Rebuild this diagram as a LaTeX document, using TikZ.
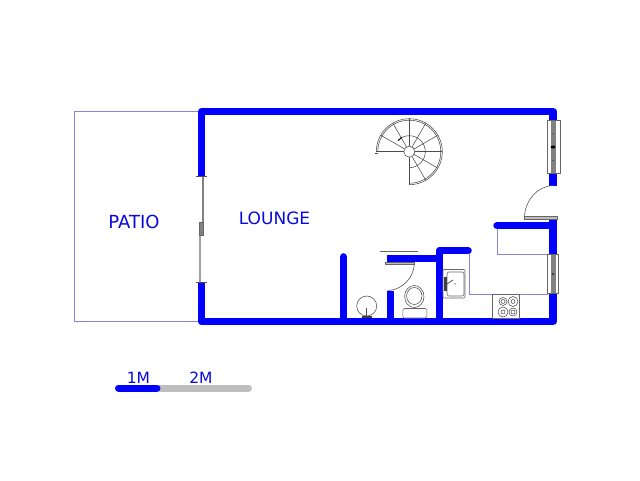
\documentclass[tikz,border=0pt]{standalone}
\usepackage{fontspec}
\setmainfont{DejaVu Sans}
\definecolor{wallblue}{RGB}{0,0,252}
\definecolor{lab}{RGB}{10,10,220}
\definecolor{pat}{RGB}{140,130,215}
\definecolor{gr}{RGB}{130,130,130}
\definecolor{lg}{RGB}{190,190,190}
\tikzset{
 wall/.style={draw=wallblue,line width=7.4pt,line join=round,line cap=butt},
 wallr/.style={wall,line cap=round},
 thin/.style={draw=pat,line width=.9pt},
 fix/.style={draw=black!70,line width=.55pt},
 frame/.style={draw=black!60,fill=white,line width=.6pt},
 roomlabel/.style={text=lab,font=\fontsize{17}{18}\selectfont,inner sep=0pt},
 scalelabel/.style={text=lab,font=\fontsize{15.5}{16}\selectfont,inner sep=0pt}
}
\begin{document}
\begin{tikzpicture}[x=1pt,y=-1pt]
\useasboundingbox (0,0) rectangle (640,480);
\fill[white] (0,0) rectangle (640,480);
% patio
\draw[thin] (201,111) -- (74.5,111) -- (74.5,321.7) -- (201,321.7);
% counters
\draw[thin] (497,226) -- (497,254) -- (548,254);
\draw[thin] (469.5,252) -- (469.5,294) -- (548,294);
% walls
\draw[wall] (201.7,176) -- (201.7,111.5) -- (553,111.5) -- (553,120);
\draw[wall] (553,173) -- (553,185.5);
\draw[wall] (201.7,283) -- (201.7,321.7) -- (553,321.7) -- (553,293);
\draw[wall] (553,254) -- (553,218);
\draw[wallr] (553,225.7) -- (497,225.7);
\draw[wall] (343.5,321.7) -- (343.5,257);
\draw[wallr] (343.5,257) -- (343.5,256.9);
\draw[wall] (390.7,321.7) -- (390.7,291);
\draw[wall] (386.5,258.5) -- (440,258.5);
\draw[wall] (439.5,321.7) -- (439.5,250.5) -- (468,250.5);
\draw[wallr] (468,250.5) -- (468.1,250.5);
% sliding door
\draw[gr,line width=2pt] (202.7,176) -- (202.7,228);
\draw[lg!85!black,line width=2pt] (200,228) -- (200,283);
\draw[frame,fill=gr] (199,222.5) rectangle (203.5,235.5);
\draw[black!70,line width=.6pt] (195.5,176) -- (206.5,176) (195.5,282.7) -- (206.5,282.7);
% upper right window
\draw[frame] (547.7,120.7) rectangle (559.8,173.3);
\fill[gr] (551,121) rectangle (556,173);
\fill[black] (553,147) ellipse (2.5 and 1.5);
\fill[black!80] (553,134) circle (.7) (553,160.5) circle (.7);
% lower right window
\draw[frame] (547.5,254) rectangle (558.7,293.3);
\fill[gr] (551,254.5) rectangle (556,293);
\fill[black] (553,274) circle (.8);
% entrance door
\draw[frame,fill=lg] (524.5,216.2) rectangle (557.5,218.8);
\draw[fix] (524.5,216.2) .. controls (525.5,200) and (537,186.5) .. (553,185.5);
% bathroom door
\draw[frame,fill=lg] (385.5,261.8) rectangle (414.3,264.6);
\draw[fix] (414.3,264.6) .. controls (413.5,278) and (402,290) .. (388,290.5);
\draw[black!60,line width=.6pt] (379.5,251.3) -- (417.5,251.3);
% spiral stair (y axis points down, so angles run clockwise on the page)
\begin{scope}[shift={(409.3,151.7)},fix]
 \draw (180:33) arc[start angle=180,end angle=450,radius=33];
 \draw (180:31.5) arc[start angle=180,end angle=450,radius=31.5];
 \draw (-34,1.5) -- (-31,1.5);
 \draw (225:16) arc[start angle=225,end angle=450,radius=16];
 \draw (0,0) circle (5.5);
 \foreach \a in {180,210,...,450}
   \draw (\a:5.5) -- (\a:33);
 \draw[black,line width=.9pt] (-11,-11) -- (-7.5,-14.5);
\end{scope}
% basin
\draw[fix] (366.7,306) circle (10);
\draw[fix] (366.7,308) -- (366.7,316);
\fill[black!75] (361.5,316) rectangle (372,318);
% toilet
\draw[fix] (414.3,296.5) ellipse (9.7 and 11);
\draw[fix] (414.3,296) ellipse (7.7 and 8.5);
\draw[frame,rounded corners=1.5pt] (402.8,308.5) rectangle (426.8,318);
% sink
\draw[frame,rounded corners=1pt] (443,269.5) rectangle (465,298);
\draw[frame,rounded corners=2pt] (447,272) rectangle (464,296);
\fill[black!75] (444,277) rectangle (447,291);
\draw[black!70,line width=.8pt] (447,284) -- (453,280);
\fill[black!60] (455,283.8) circle (.8);
% stove
\draw[frame] (492.3,294) rectangle (519.3,318);
\foreach \p/\r in {(503,301.5)/4,(513,301.5)/5,(503,312)/5,(513,312)/4}{
  \draw[fix] \p circle (\r);
  \draw[fix] \p circle (2);
}
% labels
\node[roomlabel,font=\fontsize{18}{19}\selectfont] (patio) at (134,222) {PATIO};
\node[roomlabel] (lounge) at (274.5,218) {LOUNGE};
% scale bar
\draw[lg,line width=7pt,line cap=round] (160,388) -- (248.5,388);
\draw[wallblue,line width=7pt,line cap=round] (118.5,388) -- (157,388);
\node[scalelabel] (m1) at (138.5,378) {1M};
\node[scalelabel] (m2) at (201,378) {2M};
\end{tikzpicture}
\end{document}
